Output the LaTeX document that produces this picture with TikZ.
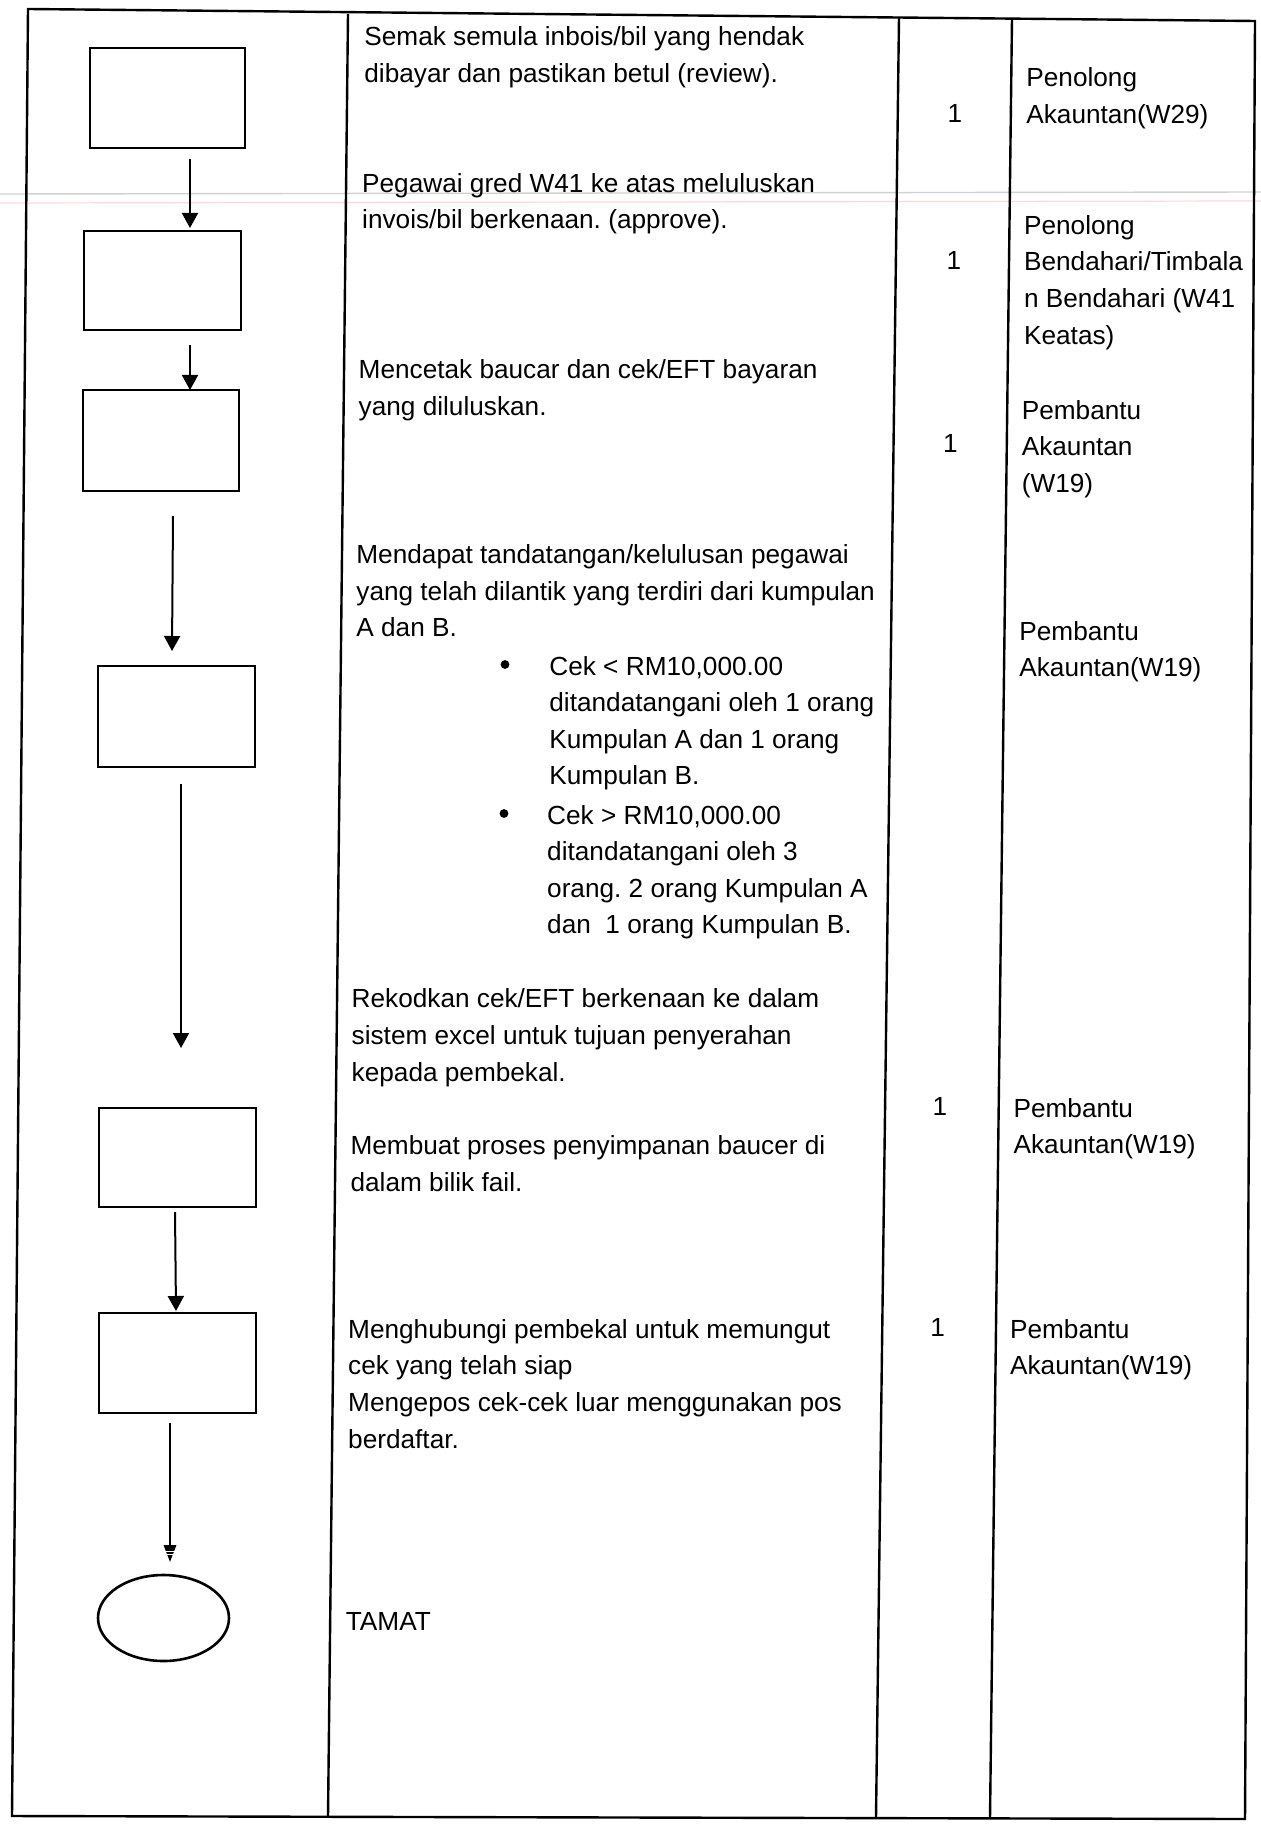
\documentclass[tikz,border=0pt]{standalone}
\usepackage{fontspec}
\setmainfont{Liberation Sans}
\usetikzlibrary{arrows.meta,shapes.geometric}
\begin{document}
\frenchspacing
\begin{tikzpicture}[x=0.5pt,y=-0.5pt,
  frame/.style={line width=1.2pt, black},
  stepbox/.style={draw, line width=1.4pt, rectangle, inner sep=0pt},
  endoval/.style={draw, line width=1.3pt, ellipse, inner sep=0pt},
  flow/.style={line width=1pt, -{Triangle[length=7.5pt,width=8pt]}},
  lastflow/.style={line width=1pt, -{Triangle[length=8.5pt,width=6.2pt]}},
  txt/.style={anchor=north west, inner sep=0pt, align=left, font=\fontsize{13.1pt}{18.3pt}\selectfont\frenchspacing},
  num/.style={anchor=base, inner sep=0pt, font=\fontsize{13.1pt}{18.3pt}\selectfont},
  bul/.style={circle, fill=black, inner sep=0pt, minimum size=4.4pt},
]
\useasboundingbox (0,0) rectangle (1261,1824);
\fill[white] (0,0) rectangle (1261,1824);

% faint scan lines
\draw[black!18, line width=0.7pt] (0,194) -- (1261,192);
\draw[red!15, line width=0.6pt] (0,203) -- (1261,201);

% frame and column dividers
\coordinate (tl) at (28,9);
\coordinate (tr) at (1255,21);
\coordinate (br) at (1245,1819);
\coordinate (bl) at (12,1816);
\draw[frame] (tl) -- (tr) -- (br) -- (bl) -- cycle;
\coordinate (d1t) at (348,14);  \coordinate (d1b) at (328,1817);
\coordinate (d2t) at (899,17);  \coordinate (d2b) at (876,1818);
\coordinate (d3t) at (1012,18); \coordinate (d3b) at (990,1818);
\draw[frame] (d1t) -- (d1b);
\draw[frame] (d2t) -- (d2b);
\draw[frame] (d3t) -- (d3b);

% flow boxes
\node[stepbox, minimum width=77.5pt, minimum height=50pt] (b1) at (167.5,98) {};
\node[stepbox, minimum width=78.5pt, minimum height=49.5pt] (b2) at (162.5,280.5) {};
\node[stepbox, minimum width=78pt, minimum height=50.5pt] (b3) at (161,440.5) {};
\node[stepbox, minimum width=78.5pt, minimum height=50.5pt] (b4) at (176.5,716.5) {};
\node[stepbox, minimum width=78.5pt, minimum height=49.5pt] (b5) at (177.5,1157.5) {};
\node[stepbox, minimum width=78.5pt, minimum height=50pt] (b6) at (177.5,1363) {};
\node[endoval, minimum width=65.5pt, minimum height=43pt] (e7) at (163.5,1618) {};

% arrows
\coordinate (a1s) at (190,159);  \coordinate (a1e) at (190,228);
\coordinate (a2s) at (190,345);  \coordinate (a2e) at (190,390);
\coordinate (a3s) at (173,516);  \coordinate (a3e) at (172,651);
\coordinate (a4s) at (181,784);  \coordinate (a4e) at (181,1048);
\coordinate (a5s) at (175,1212); \coordinate (a5e) at (176,1311);
\coordinate (a6s) at (170,1423); \coordinate (a6e) at (170,1562);
\draw[flow] (a1s) -- (a1e);
\draw[flow] (a2s) -- (a2e);
\draw[flow] (a3s) -- (a3e);
\draw[flow] (a4s) -- (a4e);
\draw[flow] (a5s) -- (a5e);
\draw[lastflow] (a6s) -- (a6e);
\draw[white, line width=0.5pt] ([xshift=-4pt,yshift=5.5pt]a6e) -- ([xshift=4pt,yshift=5.5pt]a6e);
\draw[white, line width=0.5pt] ([xshift=-4pt,yshift=3.6pt]a6e) -- ([xshift=4pt,yshift=3.6pt]a6e);

% column 2 texts
\node[txt] (t1) at (364,19.8) {\strut Semak semula inbois/bil yang hendak\\dibayar dan pastikan betul (review).};
\node[txt] (t2) at (361.8,166.3) {\strut Pegawai gred W41 ke atas meluluskan\\invois/bil berkenaan. (approve).};
\node[txt] (t3) at (358.3,352.5) {\strut Mencetak baucar dan cek/EFT bayaran\\yang diluluskan.};
\node[txt] (t4) at (356,537.4) {\strut Mendapat tandatangan/kelulusan pegawai\\yang telah dilantik yang terdiri dari kumpulan\\A dan B.};
\node[bul] (u1) at (505,664.5) {};
\node[txt] (t5) at (549,649.1) {\strut Cek < RM10,000.00\\ditandatangani oleh 1 orang\\Kumpulan A dan 1 orang\\Kumpulan B.};
\node[bul] (u2) at (504,813.5) {};
\node[txt] (t6) at (546.8,798) {\strut Cek > RM10,000.00\\ditandatangani oleh 3\\orang. 2 orang Kumpulan A\\dan\ \ 1 orang Kumpulan B.};
\node[txt] (t7) at (351.3,981.8) {\strut Rekodkan cek/EFT berkenaan ke dalam\\sistem excel untuk tujuan penyerahan\\kepada pembekal.};
\node[txt] (t8) at (350.2,1128.4) {\strut Membuat proses penyimpanan baucer di\\dalam bilik fail.};
\node[txt] (t9) at (347.8,1312.2) {\strut Menghubungi pembekal untuk memungut\\cek yang telah siap\\Mengepos cek-cek luar menggunakan pos\\berdaftar.};
\node[txt] (t10) at (345.5,1604.2) {\strut TAMAT};

% column 3 numbers
\node[num] (n1) at (955,122.1) {1};
\node[num] (n2) at (954,269.9) {1};
\node[num] (n3) at (950.4,452.5) {1};
\node[num] (n4) at (940,1115.6) {1};
\node[num] (n5) at (937.6,1336.6) {1};

% column 4 roles
\node[txt] (r1) at (1026,60.5) {\strut Penolong\\Akauntan(W29)};
\node[txt] (r2) at (1023.7,208.2) {\strut Penolong\\Bendahari/Timbala\\n Bendahari (W41\\Keatas)};
\node[txt] (r3) at (1021.4,393.2) {\strut Pembantu\\Akauntan\\(W19)};
\node[txt] (r4) at (1019,614.2) {\strut Pembantu\\Akauntan(W19)};
\node[txt] (r5) at (1013.2,1091.2) {\strut Pembantu\\Akauntan(W19)};
\node[txt] (r6) at (1009.7,1312.2) {\strut Pembantu\\Akauntan(W19)};
\end{tikzpicture}
\end{document}
